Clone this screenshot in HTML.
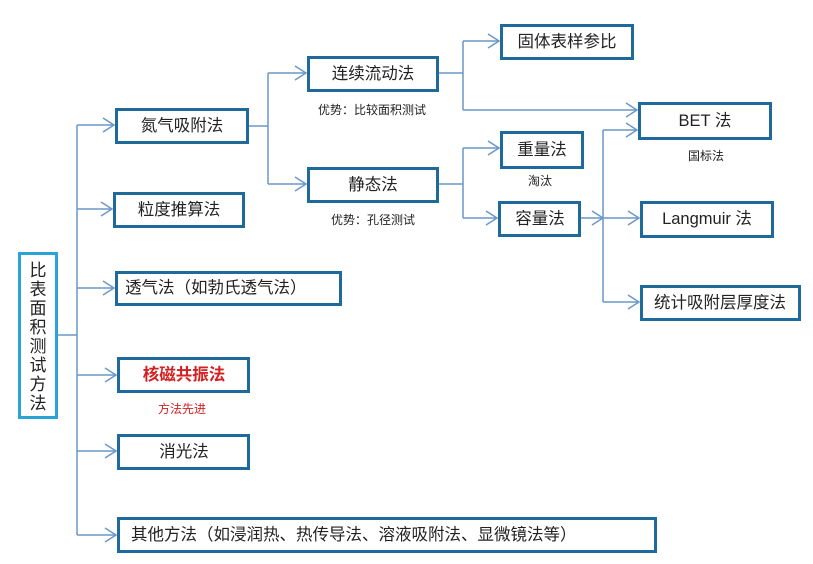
<!DOCTYPE html>
<html><head><meta charset="utf-8"><style>
html,body{margin:0;padding:0;background:#fff;}
svg{display:block;}
text{font-family:"Liberation Sans","Noto Sans CJK SC","WenQuanYi Zen Hei",sans-serif;fill:#222;}
.b{fill:#fff;stroke:#1e6a9c;stroke-width:3;}
.l{fill:none;stroke:#6b97c8;stroke-width:1.5;}
.t{font-size:16.5px;text-anchor:middle;dominant-baseline:central;}
.s{font-size:12px;text-anchor:middle;dominant-baseline:central;}
</style></head><body>
<svg width="813" height="564" viewBox="0 0 813 564">
<defs>
<marker id="a" markerWidth="14" markerHeight="16" refX="12" refY="8" orient="auto" markerUnits="userSpaceOnUse">
<path d="M1,1 L12,8 L1,15" fill="none" stroke="#6b97c8" stroke-width="1.5"/>
</marker>
</defs>
<path class="l" d="M57,335 H77 M77,125 V535"/>
<path class="l" marker-end="url(#a)" d="M77,125 H114"/>
<path class="l" marker-end="url(#a)" d="M77,209 H112"/>
<path class="l" marker-end="url(#a)" d="M77,288 H114"/>
<path class="l" marker-end="url(#a)" d="M77,375 H116"/>
<path class="l" marker-end="url(#a)" d="M77,451 H116"/>
<path class="l" marker-end="url(#a)" d="M77,535 H116"/>
<path class="l" d="M248,126 H268 M268,73 V184"/>
<path class="l" marker-end="url(#a)" d="M268,73 H306"/>
<path class="l" marker-end="url(#a)" d="M268,184 H306"/>
<path class="l" d="M438,73 H463 M463,41 V110"/>
<path class="l" marker-end="url(#a)" d="M463,41 H499"/>
<path class="l" marker-end="url(#a)" d="M463,110 H637"/>
<path class="l" d="M438,184 H463 M463,148 V218"/>
<path class="l" marker-end="url(#a)" d="M463,148 H499"/>
<path class="l" marker-end="url(#a)" d="M463,218 H497"/>
<path class="l" marker-end="url(#a)" d="M580,218 H603"/>
<path class="l" d="M603,130 V302"/>
<path class="l" marker-end="url(#a)" d="M603,130 H637"/>
<path class="l" marker-end="url(#a)" d="M603,218 H639"/>
<path class="l" marker-end="url(#a)" d="M603,302 H639"/>

<rect x="19.5" y="253.5" width="37" height="164" fill="#fff" stroke="#2aa3d6" stroke-width="3"/>
<text font-size="17" text-anchor="middle">
<tspan x="38" y="276">比</tspan><tspan x="38" y="295">表</tspan><tspan x="38" y="314">面</tspan><tspan x="38" y="333">积</tspan><tspan x="38" y="352">测</tspan><tspan x="38" y="371">试</tspan><tspan x="38" y="390">方</tspan><tspan x="38" y="409">法</tspan>
</text>

<rect class="b" x="116.5" y="109.5" width="131" height="33"/><text class="t" x="182" y="126">氮气吸附法</text>
<rect class="b" x="114.5" y="193.5" width="129" height="33"/><text class="t" x="179" y="210">粒度推算法</text>
<rect class="b" x="116.5" y="272.5" width="224" height="32"/><text class="t" x="125" y="288" style="text-anchor:start">透气法（如勃氏透气法）</text>
<rect class="b" x="118.5" y="358.5" width="130" height="33"/><text class="t" x="184" y="375" style="fill:#d42020;font-weight:bold">核磁共振法</text>
<text class="s" x="182" y="409" style="fill:#d42020">方法先进</text>
<rect class="b" x="118.5" y="435.5" width="130" height="33"/><text class="t" x="184" y="452">消光法</text>
<rect class="b" x="118.5" y="518.5" width="537" height="33"/><text class="t" x="131" y="535" style="text-anchor:start">其他方法（如浸润热、热传导法、溶液吸附法、显微镜法等）</text>

<rect class="b" x="308.5" y="57.5" width="129" height="33"/><text class="t" x="373" y="74">连续流动法</text>
<text class="s" x="372" y="110">优势：比较面积测试</text>
<rect class="b" x="308.5" y="168.5" width="129" height="33"/><text class="t" x="373" y="185">静态法</text>
<text class="s" x="373" y="220">优势：孔径测试</text>

<rect class="b" x="501.5" y="25.5" width="131" height="33"/><text class="t" x="567" y="42">固体表样参比</text>
<rect class="b" x="501.5" y="132.5" width="81" height="35"/><text class="t" x="542" y="150">重量法</text>
<text class="s" x="540" y="181">淘汰</text>
<rect class="b" x="499.5" y="202.5" width="80" height="33"/><text class="t" x="540" y="219">容量法</text>

<rect class="b" x="639.5" y="103.5" width="131" height="35"/><text class="t" x="705" y="121">BET 法</text>
<text class="s" x="706" y="156">国标法</text>
<rect class="b" x="641.5" y="202.5" width="131" height="34"/><text class="t" x="707" y="219">Langmuir 法</text>
<rect class="b" x="641.5" y="286.5" width="158" height="33"/><text class="t" x="720" y="303">统计吸附层厚度法</text>
</svg>
</body></html>
